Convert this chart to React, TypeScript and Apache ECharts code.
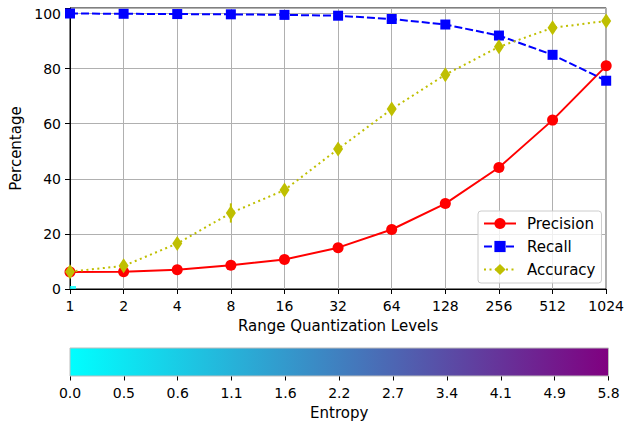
import React, { useEffect, useRef } from "react";
import * as echarts from "echarts";

const levels = ["1", "2", "4", "8", "16", "32", "64", "128", "256", "512", "1024"];
const precision = [6.2, 6.3, 7.0, 8.6, 10.7, 15.0, 21.6, 31.0, 44.1, 61.3, 81.0];
const recall = [100, 99.9, 99.8, 99.7, 99.5, 99.2, 98.0, 96.0, 92.0, 85.0, 75.6];
const accuracy = [6.3, 8.4, 16.5, 27.6, 35.9, 50.8, 65.3, 77.8, 87.9, 94.8, 97.3];
const accuracyErr = [0.3, 1.0, 1.2, 3.5, 0.8, 1.2, 1.8, 1.0, 1.0, 1.0, 0.5];
const yTicks = [0, 20, 40, 60, 80, 100];
const entropyLabels = ["0.0", "0.5", "0.6", "1.1", "1.6", "2.2", "2.7", "3.4", "4.1", "4.9", "5.8"];
const colormap = ["#00ffff", "#800080"];
const originMarker = [[0, 0]];

const FONT = "DejaVu Sans";

export default function App() {
  const ref = useRef<HTMLDivElement>(null);
  useEffect(() => {
    if (!ref.current) return;
    const chart = echarts.init(ref.current, undefined, { renderer: "svg" });
    const tickText = { fontFamily: FONT, fontSize: 14, color: "#000" };
    const titleText = { fontFamily: FONT, fontSize: 15, color: "#000" };
    chart.setOption({
      animation: false,
      backgroundColor: "#fff",
      textStyle: { fontFamily: FONT },
      grid: [
        { left: 70, right: 18.5, top: 8, bottom: 141, show: true, borderColor: "#000", borderWidth: 1, backgroundColor: "transparent" },
        { left: 70, right: 18.5, top: 348, height: 28 },
      ],
      xAxis: [
        {
          type: "category",
          gridIndex: 0,
          data: levels,
          boundaryGap: false,
          name: "Range Quantization Levels",
          nameLocation: "middle",
          nameGap: 29,
          nameTextStyle: { ...titleText },
          axisLine: { lineStyle: { color: "#000", width: 1 } },
          axisTick: { show: true, length: 5, lineStyle: { color: "#000" }, alignWithLabel: true },
          axisLabel: { ...tickText, margin: 10 },
          splitLine: { show: true, lineStyle: { color: "#b0b0b0", width: 1 } },
        },
        {
          type: "category",
          gridIndex: 1,
          data: entropyLabels,
          boundaryGap: false,
          name: "Entropy",
          nameLocation: "middle",
          nameGap: 29,
          nameTextStyle: { ...titleText },
          axisLine: { show: false },
          axisTick: { show: true, length: 4.5, lineStyle: { color: "#000" } },
          axisLabel: { ...tickText, margin: 10 },
          splitLine: { show: false },
        },
      ],
      yAxis: [
        {
          type: "value",
          gridIndex: 0,
          min: 0,
          max: 102,
          interval: 20,
          name: "Percentage",
          nameLocation: "middle",
          nameGap: 44,
          nameTextStyle: { ...titleText },
          axisLine: { show: true, lineStyle: { color: "#000", width: 1 } },
          axisTick: { show: true, length: 5, lineStyle: { color: "#000" } },
          axisLabel: {
            ...tickText,
            margin: 9,
            formatter: (v: number) => (yTicks.includes(v) ? String(v) : ""),
          },
          splitLine: { show: true, lineStyle: { color: "#b0b0b0", width: 1 } },
        },
        { type: "value", gridIndex: 1, min: 0, max: 1, show: false },
      ],
      legend: {
        orient: "vertical",
        left: 478,
        top: 211,
        padding: [5, 6, 6, 5],
        itemWidth: 32,
        itemHeight: 14,
        itemGap: 8,
        backgroundColor: "rgba(255,255,255,0.8)",
        borderColor: "#cccccc",
        borderWidth: 1,
        borderRadius: 3,
        textStyle: { fontFamily: FONT, fontSize: 15, color: "#000", lineHeight: 14, padding: [0, 0, 0, 6] },
        data: ["Precision", "Recall", "Accuracy"],
      },
      series: [
        {
          name: "Precision",
          type: "line",
          xAxisIndex: 0,
          yAxisIndex: 0,
          data: precision,
          symbol: "circle",
          symbolSize: 11,
          showAllSymbol: true,
          lineStyle: { color: "#ff0000", width: 2 },
          itemStyle: { color: "#ff0000" },
          z: 3,
        },
        {
          name: "Recall",
          type: "line",
          xAxisIndex: 0,
          yAxisIndex: 0,
          data: recall,
          symbol: "rect",
          symbolSize: 10,
          showAllSymbol: true,
          lineStyle: { color: "#0000ff", width: 2, type: [8, 3] },
          itemStyle: { color: "#0000ff" },
          z: 4,
        },
        {
          name: "Accuracy",
          type: "line",
          xAxisIndex: 0,
          yAxisIndex: 0,
          data: accuracy,
          symbol: "diamond",
          symbolSize: [10, 15],
          showAllSymbol: true,
          lineStyle: { color: "#bfbf00", width: 2, type: [2, 3.5] },
          itemStyle: { color: "#bfbf00" },
          z: 5,
        },
        {
          name: "AccuracyErr",
          type: "custom",
          xAxisIndex: 0,
          yAxisIndex: 0,
          silent: true,
          z: 5,
          data: accuracy.map((v, i) => [i, v, accuracyErr[i]]),
          renderItem: (params: any, api: any) => {
            const x = api.value(0);
            const y = api.value(1);
            const e = api.value(2);
            const p1 = api.coord([x, y - e]);
            const p2 = api.coord([x, y + e]);
            return {
              type: "line",
              shape: { x1: p1[0], y1: p1[1], x2: p2[0], y2: p2[1] },
              style: { stroke: "#bfbf00", lineWidth: 2 },
            };
          },
        },
        {
          name: "Origin",
          type: "scatter",
          xAxisIndex: 0,
          yAxisIndex: 0,
          data: originMarker,
          symbol: "rect",
          symbolSize: [6, 3],
          symbolOffset: [3, -1.5],
          itemStyle: { color: "#00ffff" },
          silent: true,
          z: 6,
        },
        {
          name: "Colorbar",
          type: "custom",
          xAxisIndex: 1,
          yAxisIndex: 1,
          silent: true,
          data: [[0, 0]],
          renderItem: (params: any) => {
            const cs = params.coordSys;
            return {
              type: "rect",
              shape: { x: cs.x, y: cs.y, width: cs.width, height: cs.height },
              style: {
                fill: new echarts.graphic.LinearGradient(
                  0, 0, 1, 0,
                  colormap.map((c, i) => ({ offset: i / (colormap.length - 1), color: c }))
                ),
                stroke: "#bdbdbd",
                lineWidth: 1,
              },
            };
          },
        },
      ],
    });
    return () => chart.dispose();
  }, []);
  return (
    <div
      ref={ref}
      style={{ position: "absolute", left: 0, top: 0, width: 627, height: 430 }}
    />
  );
}
